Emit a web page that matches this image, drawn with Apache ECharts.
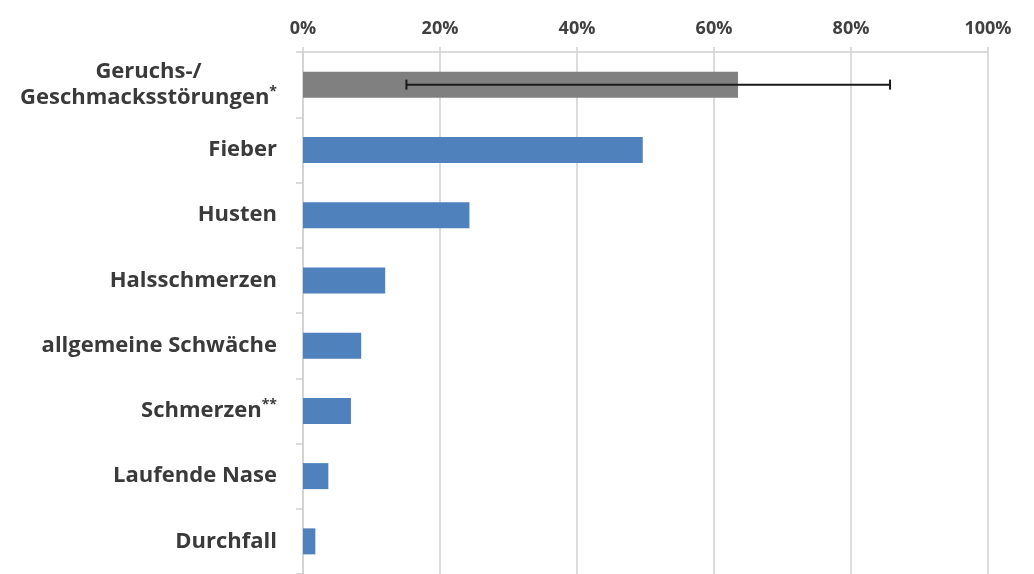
<!DOCTYPE html>
<html>
<head>
<meta charset="utf-8">
<script src="https://cdn.jsdelivr.net/npm/echarts@6/dist/echarts.min.js"></script>
<style>
  html, body { margin: 0; padding: 0; background: #fff; }
  #chart { width: 1034px; height: 574px; }
</style>
</head>
<body>
<div id="chart"></div>
<script>
let categories = ['Geruchs-/\nGeschmacksstörungen*', 'Fieber', 'Husten', 'Halsschmerzen',
    'allgemeine Schwäche', 'Schmerzen**', 'Laufende Nase', 'Durchfall'];
let values = [63.5, 49.6, 24.3, 12.0, 8.5, 7.0, 3.7, 1.8];
let errorRange = [15.1, 85.7]; // only for the first category
let xTicks = [0, 20, 40, 60, 80, 100];

let labelFont = 'Open Sans';
let labelSize = 22;
let supSize = 14;

let barData = values.map(function (v, i) {
    return {
        value: v,
        itemStyle: { color: i === 0 ? '#808080' : '#4f81bd' }
    };
});

// measure text so the two-line label can be centred line over line
let ctx = document.createElement('canvas').getContext('2d');
function textW(t, size) {
    ctx.font = 'bold ' + size + 'px "' + labelFont + '"';
    return ctx.measureText(t).width;
}

// split trailing stars off so they can be drawn as superscript
function splitStars(text) {
    let m = text.match(/^(.*?)(\**)$/);
    return [m[1], m[2]];
}

function richLabel(text) {
    let p = splitStars(text);
    let s = '{n|' + p[0] + '}';
    if (p[1]) s += '{sup|' + p[1] + '}';
    return s;
}

let option = {
    animation: false,
    grid: { left: 303, right: 46, top: 52, height: 530 },
    xAxis: {
        type: 'value',
        position: 'top',
        min: xTicks[0],
        max: xTicks[xTicks.length - 1],
        interval: 20,
        axisLine: { show: true, lineStyle: { color: '#d0d0d0', width: 1.5 } },
        axisTick: { show: true, length: 5, lineStyle: { color: '#d0d0d0', width: 1.5 } },
        splitLine: { lineStyle: { color: '#d0d0d0', width: 1.5 } },
        axisLabel: {
            formatter: '{value}%',
            color: '#404040',
            fontFamily: labelFont,
            fontWeight: 'bold',
            fontSize: 18,
            margin: 14
        }
    },
    yAxis: {
        type: 'category',
        inverse: true,
        data: categories,
        axisLine: { show: true, lineStyle: { color: '#d0d0d0', width: 1.5 } },
        axisTick: { show: true, length: 7, lineStyle: { color: '#d0d0d0', width: 1.5 } },
        axisLabel: {
            color: '#3a3a3a',
            margin: 26,
            formatter: function (val, idx) {
                let lines = val.split('\n');
                if (lines.length > 1) {
                    let last = splitStars(lines[lines.length - 1]);
                    let full = textW(last[0], labelSize) + textW(last[1], supSize);
                    let top = lines.slice(0, -1).map(function (s) {
                        return '{c|' + s + '}';
                    });
                    option.yAxis.axisLabel.rich.c.width = full;
                    return top.concat([richLabel(lines[lines.length - 1])]).join('\n');
                }
                return richLabel(val);
            },
            rich: {
                n: {
                    color: '#3a3a3a',
                    fontFamily: labelFont,
                    fontWeight: 'bold',
                    fontSize: labelSize,
                    lineHeight: 26
                },
                c: {
                    color: '#3a3a3a',
                    fontFamily: labelFont,
                    fontWeight: 'bold',
                    fontSize: labelSize,
                    lineHeight: 26,
                    align: 'center',
                    width: textW('Geschmacksstörungen', labelSize) + textW('*', supSize)
                },
                sup: {
                    color: '#3a3a3a',
                    fontFamily: labelFont,
                    fontWeight: 'bold',
                    fontSize: supSize,
                    lineHeight: 26,
                    verticalAlign: 'top',
                    padding: [0, 0, 7, 0]
                }
            }
        }
    },
    series: [
        {
            type: 'bar',
            data: barData,
            barWidth: 26
        },
        {
            type: 'custom',
            data: [[0, errorRange[0], errorRange[1]]],
            encode: { x: [1, 2], y: 0 },
            renderItem: function (params, api) {
                let cat = api.value(0);
                let lo = api.coord([api.value(1), cat]);
                let hi = api.coord([api.value(2), cat]);
                let capH = 5;
                let style = { stroke: '#1a1a1a', lineWidth: 2 };
                return {
                    type: 'group',
                    children: [
                        { type: 'line', shape: { x1: lo[0], y1: lo[1], x2: hi[0], y2: hi[1] }, style: style },
                        { type: 'line', shape: { x1: lo[0], y1: lo[1] - capH, x2: lo[0], y2: lo[1] + capH }, style: style },
                        { type: 'line', shape: { x1: hi[0], y1: hi[1] - capH, x2: hi[0], y2: hi[1] + capH }, style: style }
                    ]
                };
            },
            z: 5
        }
    ]
};

let chart = echarts.init(document.getElementById('chart'));
chart.setOption(option);
</script>
</body>
</html>
